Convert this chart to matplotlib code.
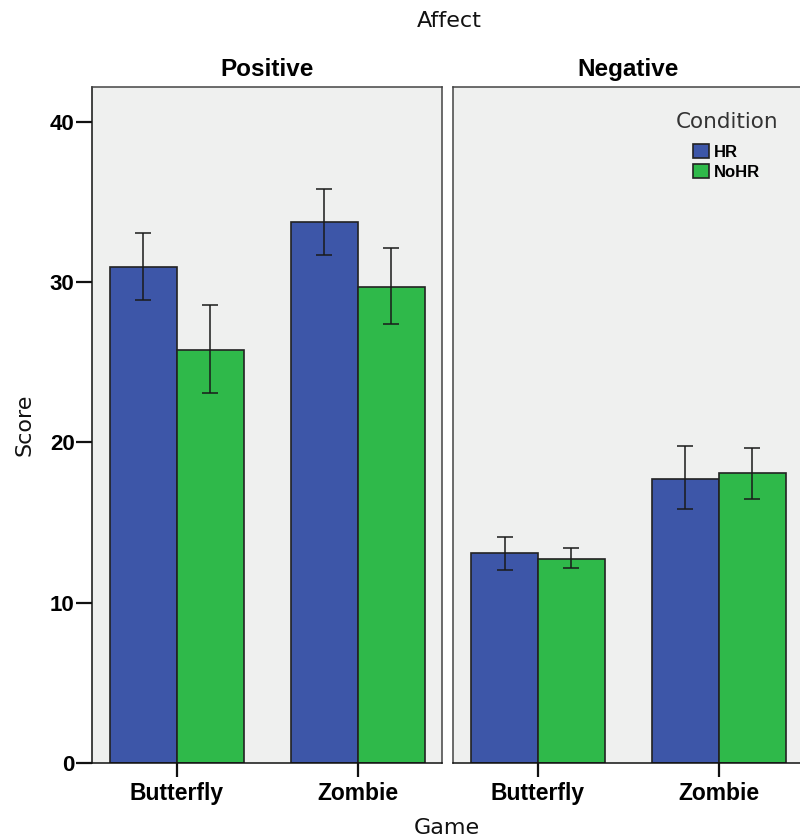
import matplotlib
matplotlib.use("Agg")
import matplotlib.pyplot as plt
import numpy as np
from matplotlib.patches import Patch

plt.rcParams["font.family"] = ["Liberation Sans", "DejaVu Sans"]

games = ["Butterfly", "Zombie"]
conditions = ["HR", "NoHR"]
panels = ["Positive", "Negative"]

# mean scores per panel: [Butterfly, Zombie]
pos_hr = [30.96, 33.73]
pos_nohr = [25.76, 29.71]
neg_hr = [13.08, 17.74]
neg_nohr = [12.73, 18.09]

# error bar limits (low, high)
pos_hr_lo = [28.88, 31.69]
pos_hr_hi = [33.04, 35.80]
pos_nohr_lo = [23.10, 27.39]
pos_nohr_hi = [28.55, 32.13]
neg_hr_lo = [12.06, 15.83]
neg_hr_hi = [14.08, 19.78]
neg_nohr_lo = [12.15, 16.49]
neg_nohr_hi = [13.41, 19.67]

yticks = [0, 10, 20, 30, 40]

colors = {"HR": "#3d56a8", "NoHR": "#2fb94a"}
edge = "#222222"

data = {
    "Positive": {"HR": (pos_hr, pos_hr_lo, pos_hr_hi),
                 "NoHR": (pos_nohr, pos_nohr_lo, pos_nohr_hi)},
    "Negative": {"HR": (neg_hr, neg_hr_lo, neg_hr_hi),
                 "NoHR": (neg_nohr, neg_nohr_lo, neg_nohr_hi)},
}

W, H = 800, 838
fig = plt.figure(figsize=(W / 100, H / 100), dpi=100)

ax_left = 92 / W
ax_w = 350 / W
ax_bottom = (H - 763) / H
ax_h = (763 - 87.3) / H
lefts = [ax_left, 453.3 / W]

x = np.arange(len(games))
bw = 0.37

for pi, panel in enumerate(panels):
    ax = fig.add_axes([lefts[pi], ax_bottom, ax_w, ax_h])
    ax.set_facecolor("#eff0ef")
    for ci, cond in enumerate(conditions):
        vals, lo, hi = data[panel][cond]
        vals = np.array(vals)
        xpos = x + (ci - 0.5) * bw
        ax.bar(xpos, vals, width=bw, color=colors[cond], edgecolor=edge,
               linewidth=1.2, zorder=2)
        yerr = np.vstack([vals - np.array(lo), np.array(hi) - vals])
        ax.errorbar(xpos, vals, yerr=yerr, fmt="none", ecolor="#1a1a1a",
                    elinewidth=1.1, capsize=6, capthick=1.1, zorder=3)

    ax.set_xlim(-0.468, 1.466)
    ax.set_ylim(0, 42.15)
    ax.set_xticks(x)
    ax.set_xticklabels(games, fontsize=16.5, fontweight="bold")
    ax.tick_params(axis="x", length=10, width=1.6, pad=4, color="#111111")
    for s in ax.spines.values():
        s.set_color("#444444")
        s.set_linewidth(1.1)
    ax.set_title(panel, fontsize=17.5, fontweight="bold", pad=8)
    if pi == 0:
        ax.set_yticks(yticks)
        ax.set_yticklabels([str(t) for t in yticks], fontsize=16,
                           fontweight="bold")
        ax.tick_params(axis="y", length=11.5, width=1.6, pad=1, color="#111111")
        ax.spines["left"].set_color("#111111")
    else:
        ax.set_yticks([])
        handles = [Patch(facecolor=colors[c], edgecolor=edge, linewidth=1.2)
                   for c in conditions]
        ax.legend(handles, conditions, loc="upper left",
                  bbox_to_anchor=(693 / W, 1 - 144 / H),
                  bbox_transform=fig.transFigure,
                  frameon=False, borderpad=0, borderaxespad=0,
                  handlelength=0.95, handleheight=0.95, handletextpad=0.3,
                  labelspacing=0.25,
                  prop={"family": "Liberation Sans", "weight": "bold",
                        "size": 12})
    ax.spines["bottom"].set_color("#111111")

fig.text(727 / W, 1 - 122 / H, "Condition", fontsize=15.5, ha="center",
         va="center", color="#333333", family="DejaVu Sans")
fig.text(449 / W, 1 - 21 / H, "Affect", fontsize=16, ha="center",
         va="center", color="#111111", family="DejaVu Sans")
fig.text(447 / W, 1 - 828 / H, "Game", fontsize=16, ha="center",
         va="center", color="#111111", family="DejaVu Sans")
fig.text(25 / W, 1 - 425 / H, "Score", fontsize=16, ha="center",
         va="center", rotation=90, color="#111111", family="DejaVu Sans")

fig.savefig("out.png", dpi=100)
